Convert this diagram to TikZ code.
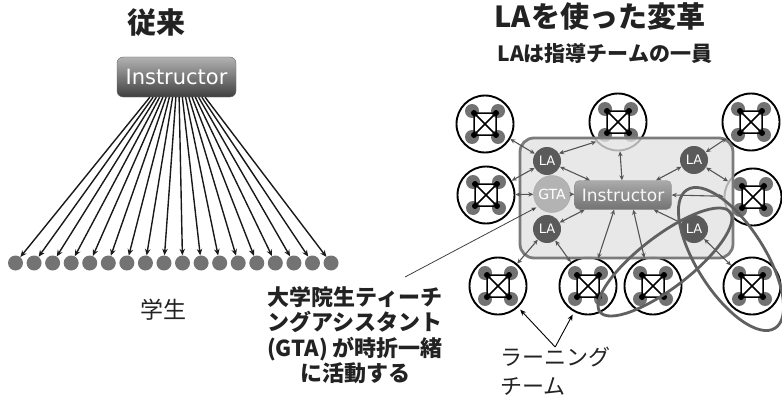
\documentclass[tikz,border=0pt]{standalone}
\usepackage{fontspec}
\setmainfont{Noto Sans CJK JP}
\newfontfamily\insfont{DejaVu Sans}
\usetikzlibrary{arrows.meta,calc}
\definecolor{stgray}{HTML}{737373}
\definecolor{lagray}{HTML}{5A5A5A}
\definecolor{gtafill}{HTML}{B3B3B3}
\definecolor{boxfill}{HTML}{E2E2E2}
\definecolor{boxedge}{HTML}{7B7B7B}
\definecolor{arrgray}{HTML}{555555}
\definecolor{ellgray}{HTML}{606060}
\definecolor{memgray}{HTML}{727272}
\definecolor{txt}{HTML}{222222}
\tikzset{
  titletxt/.style={font=\bfseries\fontsize{29}{32}\selectfont, text=txt, inner sep=0},
  subtxt/.style={font=\bfseries\fontsize{21}{24}\selectfont, text=txt, inner sep=0},
  plaintxt/.style={font=\fontsize{22}{29}\selectfont, text=txt, inner sep=0},
  stud/.style={circle, fill=stgray, minimum size=15pt, inner sep=0},
  sarr/.style={black!90, line width=1.4pt, -{Stealth[length=6.5pt,width=5.5pt]}},
  insbig/.style={rounded corners=6pt, top color=black!30, bottom color=black!75, draw=black!60,
     text=white, minimum width=119pt, minimum height=40pt, inner sep=0,
     font=\insfont\fontsize{21}{21}\selectfont},
  inssmall/.style={rounded corners=5pt, top color=black!33, bottom color=black!55, draw=black!45,
     text=black!3, minimum width=97pt, minimum height=29pt, inner sep=0,
     font=\insfont\fontsize{17}{17}\selectfont},
  teamc/.style={circle, draw=black, line width=1.9pt, fill=white, minimum size=57pt, inner sep=0},
  lac/.style={circle, fill=lagray, text=white, minimum size=28pt, inner sep=0,
     font=\insfont\fontsize{13}{13}\selectfont},
  gtac/.style={circle, fill=gtafill, draw=black!35, text=white, minimum size=37pt, inner sep=0,
     font=\insfont\fontsize{14}{14}\selectfont},
  rarr/.style={draw=arrgray, line width=1.1pt,
     {Stealth[length=5pt,width=4.5pt]}-{Stealth[length=5pt,width=4.5pt]}},
  rarrone/.style={draw=arrgray, line width=1.1pt, -{Stealth[length=5pt,width=4.5pt]}},
  thinarr/.style={draw=black!75, line width=0.8pt, -{Stealth[length=5pt,width=4pt]}},
  lblarr/.style={draw=black, line width=0.9pt, -{Stealth[length=6pt,width=5pt]}},
  elli/.style={draw=ellgray, line width=2.8pt},
  members/.pic={
    \foreach \sx/\sy in {-1/-1,1/-1,-1/1,1/1}
      \fill[memgray] (13*\sx,13*\sy) circle[radius=7];
    \draw[black, line width=1.5pt] (-11,-11) rectangle (11,11)
      (-11,-11) -- (11,11) (-11,11) -- (11,-11);
    \foreach \sx/\sy in {-1/-1,1/-1,-1/1,1/1}
      \fill[black] (11*\sx,11*\sy) circle[radius=3];
  }
}
\begin{document}
\begin{tikzpicture}[x=1pt,y=-1pt]
\useasboundingbox (0,0) rectangle (782,396);
% ---------- left: traditional ----------
\node[titletxt] (ttl0) at (156,23) {従来};
\node[insbig] (ins0) at (176.5,77) {Instructor};
\foreach \i in {1,...,18} {
  \node[stud] (s\i) at ({15.5+(\i-1)*18.56},263) {};
}
\foreach \i in {1,...,18} {
  \draw[sarr] ($(ins0.south west)!{0.277+(\i-1)*0.0272}!(ins0.south east)$) -- (s\i);
}
\node[plaintxt, font=\fontsize{23}{26}\selectfont] (stu) at (163,310) {学生};
% ---------- right: with LAs ----------
\node[titletxt] (ttl1) at (600,16) {LAを使った変革};
\node[subtxt] (sub1) at (605,54) {LAは指導チームの一員};
% teams
\foreach \n/\x/\y in {t1/485/124, t2/618/122, t3/751/122, t4/486/195, t5/753/197,
                      b1/498/286, b2/588/286, b3/653/286, b4/752/286} {
  \node[teamc] (\n) at (\x,\y) {};
  \pic at (\x,\y) {members};
}
% instruction team box
\node[draw=boxedge, line width=2.8pt, rounded corners=14pt, fill=boxfill, fill opacity=0.78,
      minimum width=213pt, minimum height=120pt, inner sep=0] (tbox) at (626.5,198) {};
% members of the instruction team
\node[lac] (la1) at (547,161) {LA};
\node[lac] (la2) at (694,160) {LA};
\node[lac] (la3) at (547,229) {LA};
\node[lac] (la4) at (694,229) {LA};
\node[gtac] (gta) at (552,194) {GTA};
\node[inssmall] (ins) at (623,195) {Instructor};
% connectors
\draw[rarr] (t1) -- (la1);
\draw[rarr] (t4) -- (la1);
\draw[rarr] (la1.32) -- (t2.222);
\draw[rarr] (la1) -- (ins.156);
\draw[rarr] (t2) -- (ins);
\draw[rarr] (la2) -- (ins.24);
\draw[rarr] (la2) -- (t3);
\draw[rarr] (la2) -- (t5);
\draw[rarr] (t5) -- (ins.east);
\draw[rarr] (t4) -- (gta);
\draw[rarrone] (gta) -- (ins);
\draw[rarr] (la3) -- (ins.201);
\draw[rarr] (la3) -- (b1);
\draw[rarr] (la3) -- (b2);
\draw[rarr] (ins.239) -- (b2.70);
\draw[rarr] (ins.-55) -- (b3.107);
\draw[rarr] (ins) -- (la4);
\draw[rarr] (la4) -- (b4);
% loops
\draw[elli, rotate around={37.5:(665,262)}] (665,262) ellipse [x radius=82, y radius=26];
\draw[elli, rotate around={-57.5:(731,259)}] (731,259) ellipse [x radius=82, y radius=34];
% GTA label
\node[align=center, font=\bfseries\fontsize{22}{25.5}\selectfont, text=txt, inner sep=0]
  (gtalbl) at (355,335) {大学院生ティーチ\\ングアシスタント\\(GTA) が時折一緒\\に活動する};
\coordinate (gtaptr) at (405,277);
\draw[thinarr, shorten >=2pt] (gtaptr) -- (gta.222);
% learning teams label
\node[plaintxt, align=left, anchor=north west] (ltlbl) at (500,347) {ラーニング\\チーム};
\draw[lblarr, shorten >=3pt] (ltlbl.north) -- (b1);
\draw[lblarr, shorten >=3pt] (ltlbl.north) -- (b2);
\end{tikzpicture}
\end{document}
